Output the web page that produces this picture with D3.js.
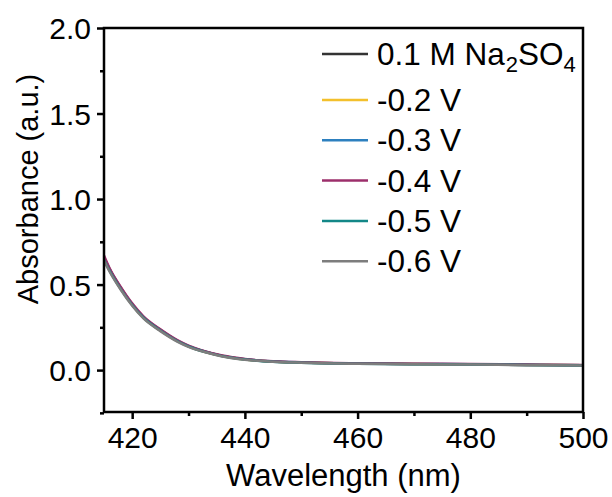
<!doctype html>
<html>
  <head>
    <meta charset="utf-8">
    <title>Absorbance vs wavelength</title>
    <script src="https://cdnjs.cloudflare.com/ajax/libs/d3/7.8.5/d3.min.js"></script>
    <style>
      body { margin: 0; background: #fff; }
      text { font-family: "Liberation Sans", Arial, sans-serif; fill: #000; }
    </style>
  </head>
  <body>
    <div id="chart"></div>
    <script>
      // data
      const wavelength = [415, 416, 418, 420, 422, 425, 428, 430, 433, 436, 440, 445, 450, 460, 470, 480, 490, 500];
      const naso4 = [0.66, 0.59, 0.48, 0.385, 0.31, 0.235, 0.172, 0.140, 0.107, 0.083, 0.063, 0.050, 0.044, 0.038, 0.035, 0.033, 0.030, 0.028];
      const v02   = [0.65, 0.585, 0.475, 0.382, 0.307, 0.232, 0.170, 0.139, 0.106, 0.082, 0.062, 0.050, 0.044, 0.038, 0.035, 0.034, 0.031, 0.028];
      const v03   = [0.655, 0.588, 0.478, 0.384, 0.309, 0.234, 0.171, 0.140, 0.107, 0.083, 0.063, 0.051, 0.045, 0.039, 0.036, 0.034, 0.031, 0.029];
      const v04   = [0.67, 0.595, 0.485, 0.39, 0.314, 0.238, 0.175, 0.143, 0.109, 0.085, 0.065, 0.052, 0.046, 0.040, 0.037, 0.036, 0.032, 0.030];
      const v05   = [0.645, 0.58, 0.472, 0.38, 0.306, 0.231, 0.169, 0.138, 0.105, 0.081, 0.062, 0.049, 0.043, 0.037, 0.034, 0.033, 0.030, 0.027];
      const v06   = [0.64, 0.575, 0.468, 0.376, 0.302, 0.228, 0.167, 0.136, 0.104, 0.080, 0.061, 0.049, 0.043, 0.037, 0.034, 0.032, 0.029, 0.027];

      const seriesNames = ['0.1 M Na2SO4', '-0.2 V', '-0.3 V', '-0.4 V', '-0.5 V', '-0.6 V'];
      const seriesValues = [naso4, v02, v03, v04, v05, v06];
      const seriesColors = ['#333333', '#f3c02c', '#2d80bf', '#9c2f6b', '#138787', '#7d7d7d'];

      const xTicks = [420, 440, 460, 480, 500];
      const xMinor = [430, 450, 470, 490];
      const yTicks = [0.0, 0.5, 1.0, 1.5, 2.0];
      const yMinor = [-0.25, 0.25, 0.75, 1.25, 1.75];

      const W = 612, H = 497;
      const mLeft = 104, mRight = 583, mTop = 28, mBottom = 412;

      const x = d3.scaleLinear().domain([415, 500]).range([mLeft, mRight]);
      const y = d3.scaleLinear().domain([-0.245, 2.0]).range([mBottom, mTop]);

      const svg = d3.select('#chart').append('svg')
        .attr('width', W)
        .attr('height', H);

      // curves
      const line = d3.line()
        .x((d, i) => x(wavelength[i]))
        .y(d => y(d))
        .curve(d3.curveMonotoneX);

      svg.append('g')
        .selectAll('path')
        .data(seriesValues)
        .join('path')
        .attr('d', d => line(d))
        .attr('fill', 'none')
        .attr('stroke', (d, i) => seriesColors[i])
        .attr('stroke-width', 2.5);

      // axes
      svg.append('g')
        .attr('transform', `translate(0,${mBottom})`)
        .call(d3.axisBottom(x).tickValues(xTicks).tickSize(7).tickPadding(8).tickFormat(d3.format('d')));
      svg.append('g')
        .attr('transform', `translate(0,${mBottom})`)
        .call(d3.axisBottom(x).tickValues(xMinor).tickSize(4).tickFormat(''));

      const yAxis = svg.append('g')
        .attr('transform', `translate(${mLeft},0)`)
        .call(d3.axisLeft(y).tickValues(yTicks).tickSize(7).tickPadding(6).tickFormat(d3.format('.1f')));
      svg.append('g')
        .attr('transform', `translate(${mLeft},0)`)
        .call(d3.axisLeft(y).tickValues(yMinor).tickSize(4).tickFormat(''));

      svg.selectAll('.domain').remove();
      svg.selectAll('.tick line').attr('stroke', '#000').attr('stroke-width', 2.5);
      svg.selectAll('.tick text').style('font-size', '30px').attr('fill', '#000');
      yAxis.selectAll('.tick text').attr('dy', '0.36em');

      // frame
      svg.append('rect')
        .attr('x', mLeft)
        .attr('y', mTop)
        .attr('width', mRight - mLeft)
        .attr('height', mBottom - mTop)
        .attr('fill', 'none')
        .attr('stroke', '#000')
        .attr('stroke-width', 2.5);

      // axis titles
      svg.append('text')
        .attr('x', (mLeft + mRight) / 2)
        .attr('y', 486)
        .attr('text-anchor', 'middle')
        .style('font-size', '31px')
        .text('Wavelength (nm)');

      svg.append('text')
        .attr('transform', 'translate(38,189) rotate(-90)')
        .attr('text-anchor', 'middle')
        .style('font-size', '29px')
        .text('Absorbance (a.u.)');

      // legend
      const legend = svg.append('g');
      seriesNames.forEach((name, i) => {
        const ly = i === 0 ? 54 : 100 + (i - 1) * 40.3;
        legend.append('line')
          .attr('x1', 322).attr('x2', 368)
          .attr('y1', ly).attr('y2', ly)
          .attr('stroke', seriesColors[i])
          .attr('stroke-width', 2.5);
        const t = legend.append('text')
          .attr('x', 377)
          .attr('y', ly + 11)
          .style('font-size', '31.5px');
        if (i === 0) {
          t.append('tspan').text('0.1 M Na');
          t.append('tspan').attr('dy', 7).attr('dx', 1).style('font-size', '22px').text('2');
          t.append('tspan').attr('dy', -7).text('SO');
          t.append('tspan').attr('dy', 7).style('font-size', '22px').text('4');
        } else {
          t.text(name);
        }
      });
    </script>
  </body>
</html>
